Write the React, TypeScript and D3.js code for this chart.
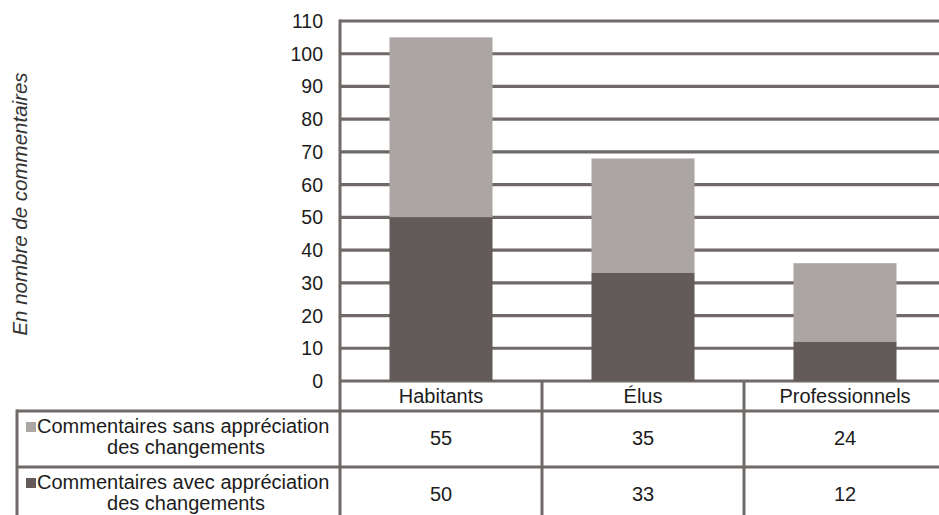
import * as d3 from "d3";

const categories = ["Habitants", "Élus", "Professionnels"];
const avecAppreciation = [50, 33, 12];
const sansAppreciation = [55, 35, 24];
const yTicks = [0, 10, 20, 30, 40, 50, 60, 70, 80, 90, 100, 110];
const seriesLabels = [
  ["Commentaires sans appréciation", "des changements"],
  ["Commentaires avec appréciation", "des changements"],
];
const yTitle = "En nombre de commentaires";

const W = 939;
const H = 515;
const LINE = "#6f6968";
const LIGHT = "#aba6a4";
const DARK = "#625b59";
const TEXT = "#1c1c1c";
const FONT = "'Liberation Sans', Arial, sans-serif";

export default function App() {
  const left = 340;
  const tableLeft = 17;
  const x = d3.scaleBand<string>().domain(categories).range([left, left + 606]);
  const y = d3.scaleLinear().domain([0, 110]).range([381, 21]);
  const barW = x.bandwidth() * 0.51;

  const stack = categories.map((c, i) => ({
    cat: c,
    avec: avecAppreciation[i],
    sans: sansAppreciation[i],
  }));

  const headerBottom = 411;
  const rowH = 56;
  const rows = [sansAppreciation, avecAppreciation];
  const swatch = [LIGHT, DARK];

  return (
    <svg width={W} height={H} style={{ position: "absolute", left: 0, top: 0, background: "#fff" }} fontFamily={FONT}>
      {/* gridlines */}
      {yTicks.map((t) => (
        <line key={t} x1={left} x2={W} y1={y(t)} y2={y(t)} stroke={LINE} strokeWidth={3.2} />
      ))}
      {yTicks.map((t) => (
        <text key={"l" + t} x={323} y={y(t)} dy="0.36em" textAnchor="end" fontSize={19.5} fill={TEXT}>
          {t}
        </text>
      ))}
      <text transform={`translate(27,${204}) rotate(-90)`} textAnchor="middle" fontSize={20.5} fontStyle="italic" fill="#333">
        {yTitle}
      </text>

      {/* bars */}
      {stack.map((d) => {
        const bx = (x(d.cat) as number) + (x.bandwidth() - barW) / 2;
        return (
          <g key={d.cat}>
            <rect x={bx} width={barW} y={y(d.avec + d.sans)} height={y(d.avec) - y(d.avec + d.sans)} fill={LIGHT} />
            <rect x={bx} width={barW} y={y(d.avec)} height={y(0) - y(d.avec)} fill={DARK} />
          </g>
        );
      })}

      {/* data table */}
      <line x1={left} x2={left} y1={y(110) - 1.5} y2={H} stroke={LINE} strokeWidth={3} />
      {categories.slice(1).map((c) => (
        <line key={"v" + c} x1={x(c) as number} x2={x(c) as number} y1={y(0)} y2={H} stroke={LINE} strokeWidth={3} />
      ))}
      <line x1={tableLeft} x2={tableLeft} y1={headerBottom - 1.5} y2={H} stroke={LINE} strokeWidth={3} />
      {[headerBottom, headerBottom + rowH].map((yy) => (
        <line key={"h" + yy} x1={tableLeft} x2={W} y1={yy} y2={yy} stroke={LINE} strokeWidth={3} />
      ))}
      {categories.map((c) => (
        <text key={"c" + c} x={(x(c) as number) + x.bandwidth() / 2} y={403} textAnchor="middle" fontSize={20} fill={TEXT}>
          {c}
        </text>
      ))}
      {rows.map((vals, r) => {
        const top = headerBottom + r * rowH;
        return (
          <g key={"r" + r}>
            <rect x={26} y={top + 11} width={10} height={10} fill={swatch[r]} />
            <text x={37} y={top + 22} fontSize={20} fill={TEXT}>
              {seriesLabels[r][0]}
            </text>
            <text x={186} y={top + 43} textAnchor="middle" fontSize={20} fill={TEXT}>
              {seriesLabels[r][1]}
            </text>
            {vals.map((v, i) => (
              <text key={i} x={(x(categories[i]) as number) + x.bandwidth() / 2} y={top + 34} textAnchor="middle" fontSize={20} fill={TEXT}>
                {v}
              </text>
            ))}
          </g>
        );
      })}
    </svg>
  );
}
